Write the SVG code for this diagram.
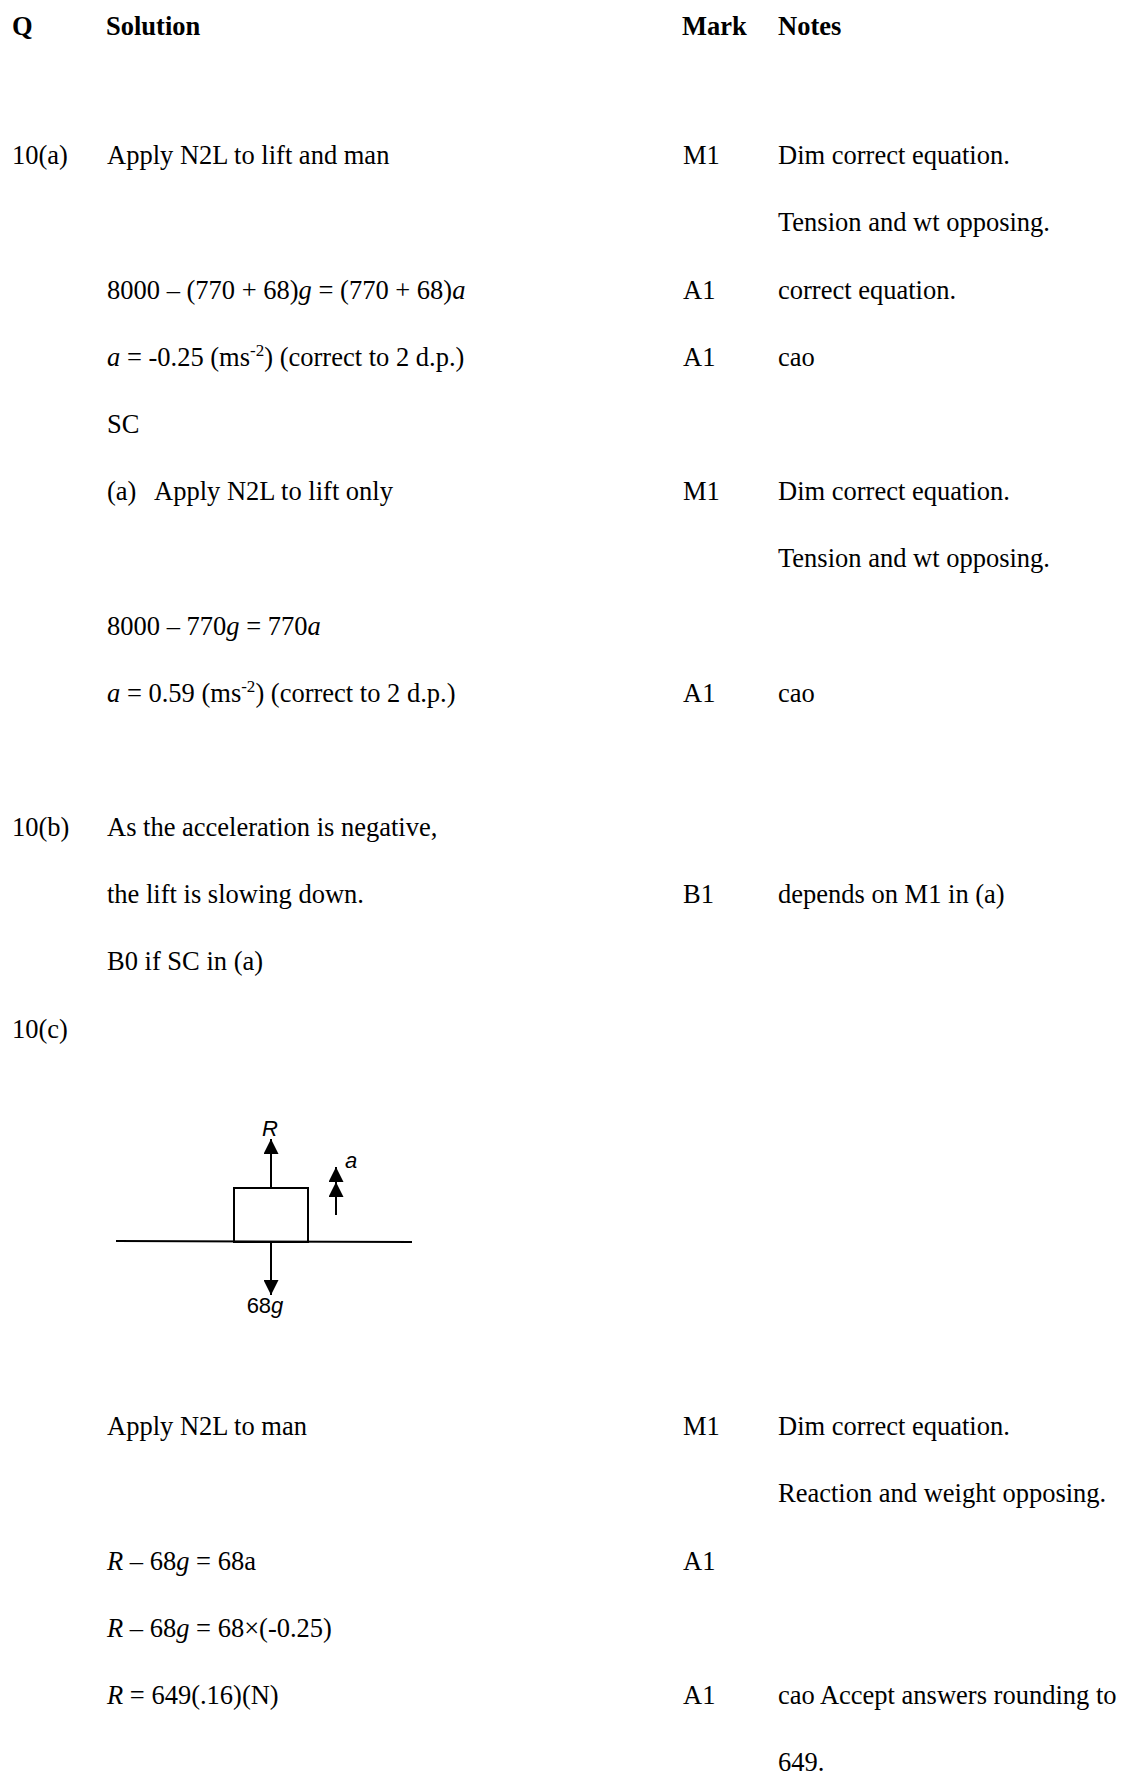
<svg xmlns="http://www.w3.org/2000/svg" width="1125" height="1775" viewBox="0 0 1125 1775">
<style>
text{font-family:"Liberation Serif","Times New Roman",serif;font-size:26.5px;fill:#000}
.h{font-weight:bold}
.i{font-style:italic}
.sup{font-size:17px}
.d{font-family:"Liberation Sans",Arial,sans-serif;font-size:22px}
.ln{stroke:#000;stroke-width:2;fill:none}
</style>
<defs>
<marker id="ah" viewBox="0 0 15 15" refX="15" refY="7.5" markerWidth="15" markerHeight="15" markerUnits="userSpaceOnUse" orient="auto">
<path d="M0,0 L15,7.5 L0,15 Z" fill="#000"/>
</marker>
</defs>
<rect width="1125" height="1775" fill="#fff"/>
<g id="header">
<text class="h" x="12" y="35">Q</text>
<text class="h" x="106" y="35">Solution</text>
<text class="h" x="682" y="35">Mark</text>
<text class="h" x="778" y="35">Notes</text>
</g>
<g id="part-a">
<text x="12" y="164">10(a)</text>
<text x="107" y="164">Apply N2L to lift and man</text>
<text x="683" y="164">M1</text>
<text x="778" y="164">Dim correct equation.</text>
<text x="778" y="231">Tension and wt opposing.</text>
<text x="107" y="299">8000 – (770 + 68)<tspan class="i">g</tspan> = (770 + 68)<tspan class="i">a</tspan></text>
<text x="683" y="299">A1</text>
<text x="778" y="299">correct equation.</text>
<text x="107" y="366"><tspan class="i">a</tspan> = -0.25 (ms<tspan class="sup" dy="-10">-2</tspan><tspan dy="10">) (correct to 2 d.p.)</tspan></text>
<text x="683" y="366">A1</text>
<text x="778" y="366">cao</text>
<text x="107" y="433">SC</text>
<text x="107" y="500">(a)</text>
<text x="154" y="500">Apply N2L to lift only</text>
<text x="683" y="500">M1</text>
<text x="778" y="500">Dim correct equation.</text>
<text x="778" y="567">Tension and wt opposing.</text>
<text x="107" y="635">8000 – 770<tspan class="i">g</tspan> = 770<tspan class="i">a</tspan></text>
<text x="107" y="702"><tspan class="i">a</tspan> = 0.59 (ms<tspan class="sup" dy="-10">-2</tspan><tspan dy="10">) (correct to 2 d.p.)</tspan></text>
<text x="683" y="702">A1</text>
<text x="778" y="702">cao</text>
</g>
<g id="part-b">
<text x="12" y="836">10(b)</text>
<text x="107" y="836">As the acceleration is negative,</text>
<text x="107" y="903">the lift is slowing down.</text>
<text x="683" y="903">B1</text>
<text x="778" y="903">depends on M1 in (a)</text>
<text x="107" y="970">B0 if SC in (a)</text>
</g>
<g id="part-c">
<text x="12" y="1038">10(c)</text>
</g>
<g id="diagram">
<line class="ln" x1="116" y1="1241" x2="412" y2="1242"/>
<rect class="ln" x="234" y="1188" width="74" height="54"/>
<line class="ln" x1="271" y1="1188" x2="271" y2="1139" marker-end="url(#ah)"/>
<line class="ln" x1="271" y1="1242" x2="271" y2="1295" marker-end="url(#ah)"/>
<line class="ln" x1="336" y1="1215" x2="336" y2="1182" marker-end="url(#ah)"/>
<line class="ln" x1="336" y1="1182" x2="336" y2="1167" marker-end="url(#ah)"/>
<text class="d i" x="270" y="1136" text-anchor="middle">R</text>
<text class="d i" x="345" y="1168">a</text>
<text class="d" x="265" y="1313" text-anchor="middle">68<tspan class="i">g</tspan></text>
</g>
<g id="part-c-working">
<text x="107" y="1435">Apply N2L to man</text>
<text x="683" y="1435">M1</text>
<text x="778" y="1435">Dim correct equation.</text>
<text x="778" y="1502">Reaction and weight opposing.</text>
<text x="107" y="1570"><tspan class="i">R</tspan> – 68<tspan class="i">g</tspan> = 68a</text>
<text x="683" y="1570">A1</text>
<text x="107" y="1637"><tspan class="i">R</tspan> – 68<tspan class="i">g</tspan> = 68×(-0.25)</text>
<text x="107" y="1704"><tspan class="i">R</tspan> = 649(.16)(N)</text>
<text x="683" y="1704">A1</text>
<text x="778" y="1704">cao Accept answers rounding to</text>
<text x="778" y="1771">649.</text>
</g>
</svg>
